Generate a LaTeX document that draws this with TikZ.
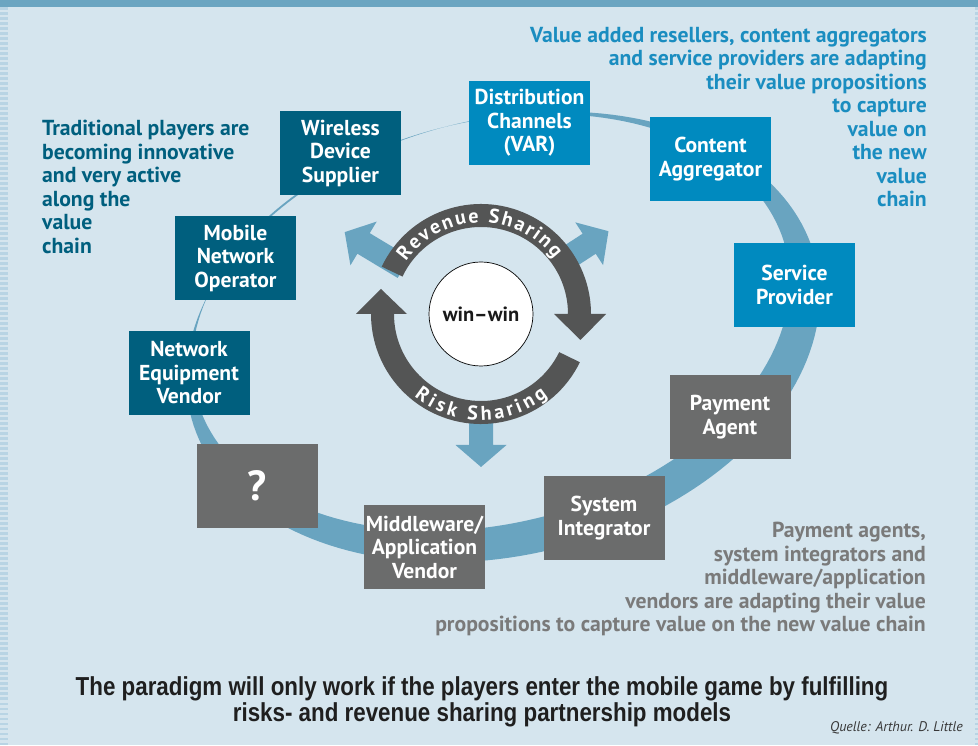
\documentclass[tikz,border=0pt]{standalone}
\usepackage{fontspec}
\setmainfont{PT Sans}
\newfontfamily\condfont[FakeStretch=0.86]{Liberation Sans}
\usetikzlibrary{decorations.text}
\definecolor{bgc}{HTML}{D5E5EE}
\definecolor{barc}{HTML}{6BA5C1}
\definecolor{ringc}{HTML}{69A4C0}
\definecolor{tealc}{HTML}{005F7E}
\definecolor{bluec}{HTML}{008ABF}
\definecolor{grayc}{HTML}{6B6C6C}
\definecolor{darkc}{HTML}{545555}
\definecolor{blutext}{HTML}{1A8DC0}
\definecolor{graytext}{HTML}{7A7A7A}
\definecolor{stripec}{HTML}{B8D4E4}
\tikzset{
  box/.style={minimum width=121pt, minimum height=84pt, inner sep=0pt, text=white,
    font=\bfseries\fontsize{21.6}{23.5}\selectfont, align=center},
  tealbox/.style={box, fill=tealc},
  bluebox/.style={box, fill=bluec},
  graybox/.style={box, fill=grayc},
  note/.style={inner sep=0pt, font=\bfseries\fontsize{21.7}{23.5}\selectfont},
  outarrow/.style={fill=ringc},
  cyclearrow/.style={fill=darkc},
}
\begin{document}
\begin{tikzpicture}[x=1pt,y=1pt]
\useasboundingbox (0,0) rectangle (978,745);
\fill[bgc] (0,0) rectangle (978,745);
% edge stripes
\foreach \k in {0,5,...,740} {
  \fill[stripec] (0,\k) rectangle (8,\k+2.5);
  \fill[stripec] (975,\k) rectangle (978,\k+2.5);
}
\fill[barc] (0,738) rectangle (978,745);
% value chain ring
\fill[ringc, even odd rule]
  plot[domain=0:360, samples=180, variable=\t]
   ({503+322*cos(\t)*cos(14)-218*sin(\t)*sin(14)}, {408+322*cos(\t)*sin(14)+218*sin(\t)*cos(14)}) -- cycle
  plot[domain=0:360, samples=180, variable=\t]
   ({491+304*cos(\t)*cos(14)-201*sin(\t)*sin(14)}, {422.5+304*cos(\t)*sin(14)+201*sin(\t)*cos(14)}) -- cycle;
% centre cycle
\begin{scope}[shift={(481,431)}]
  \foreach \ang/\base/\tip in {149/137/159, 33/129/152, -90/131/153} {
    \fill[outarrow, rotate=\ang] (90,-12) -- (\base,-12) -- (\base,-25.5) -- (\tip,0)
      -- (\base,25.5) -- (\base,12) -- (90,12) -- cycle;
  }
  \fill[cyclearrow] (154.5:110) arc[start angle=154.5, end angle=0, radius=110]
    -- (125,0) -- (99.5,-26) -- (73,0) -- (87,0)
    arc[start angle=0, end angle=154.5, radius=87] -- cycle;
  \fill[cyclearrow] (-26:110) arc[start angle=-26, end angle=-180, radius=110]
    -- (-125,0) -- (-100,25) -- (-74,0) -- (-87,0)
    arc[start angle=-180, end angle=-26, radius=87] -- cycle;
  \path[decorate, decoration={text along path, text color=white,
      text={|\bfseries\fontsize{20}{20}\selectfont|Revenue Sharing}, text align=fit to path}]
    (145:91.5) arc[start angle=145, end angle=37, radius=91.5];
  \path[decorate, decoration={text along path, text color=white,
      text={|\bfseries\fontsize{20}{20}\selectfont|Risk Sharing}, text align=fit to path}]
    (-129:106) arc[start angle=-129, end angle=-51, radius=106];
\end{scope}
\node[circle, fill=white, draw=black, line width=0.7pt, minimum size=104pt, inner sep=0pt,
  font=\bfseries\fontsize{20.5}{23}\selectfont, text=black!90] (win) at (481,431) {win--win};
% players
\node[tealbox] (wds) at (340.5,592) {Wireless\\Device\\Supplier};
\node[bluebox] (dcv) at (529.5,622) {Distribution\\Channels\\(VAR)};
\node[bluebox] (ca) at (710.5,586) {Content\\Aggregator};
\node[bluebox] (sp) at (794.5,460) {Service\\Provider};
\node[graybox] (pa) at (730,328) {Payment\\Agent};
\node[graybox] (si) at (604,227) {System\\Integrator};
\node[graybox] (mav) at (424.5,198) {Middleware/\\Application\\Vendor};
\node[graybox, font=\bfseries\fontsize{42}{42}\selectfont] (q) at (257.5,259) {?};
\node[tealbox] (nev) at (189,372) {Network\\Equipment\\Vendor};
\node[tealbox] (mno) at (235.5,487) {Mobile\\Network\\Operator};
% notes
\node[note, anchor=north west, align=left, text=tealc] (lnote) at (42,625)
  {Traditional players are\\becoming innovative\\and very active\\along the\\value\\chain};
\node[note, anchor=north east, align=right, text=blutext] (rnote) at (927,718)
  {Value added resellers, content aggregators\\and service providers are adapting\\their value propositions\\to capture\\value on\\the new\\value\\chain};
\node[note, anchor=north east, align=right, text=graytext] (gnote) at (926,223)
  {Payment agents,\\system integrators and\\middleware/application\\vendors are adapting their value\\propositions to capture value on the new value chain};
\node[inner sep=0pt, align=center, text=black!88, font=\condfont\bfseries\fontsize{26}{24}\selectfont] (para) at (482,43)
  {The paradigm will only work if the players enter the mobile game by fulfilling\\risks- and revenue sharing partnership models};
\node[anchor=base east, inner sep=0pt, text=black!78, font=\itshape\fontsize{14}{16}\selectfont] (src) at (963,13)
  {Quelle: Arthur. D. Little};
\end{tikzpicture}
\end{document}
